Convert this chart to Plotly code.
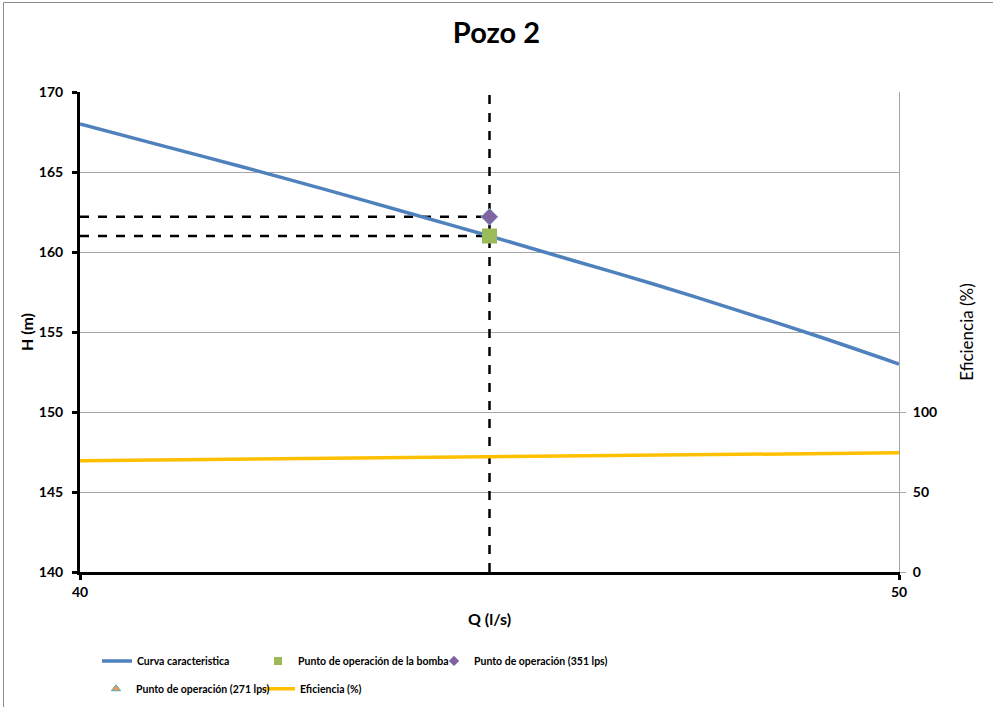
import plotly.graph_objects as go

# curva caracteristica de la bomba
q_curve = [40, 41, 42, 43, 44, 45, 46, 47, 48, 49, 50]
h_curve = [168.0, 166.65, 165.3, 163.9, 162.45, 161.0, 159.5, 158.0, 156.4, 154.75, 153.0]

# eficiencia (%)
q_eff = [40, 45, 50]
eff = [69.5, 72.0, 74.5]

# puntos de operacion
q_op = [45]
h_bomba = [161.0]
h_351 = [162.2]

h_range = [140, 170]
q_range = [40, 50]
eff_range = [0, 300]
eff_ticks = [0, 50, 100]

FONT = "Lato"
BLUE = "#4F81BD"
GREEN = "#9BBB59"
PURPLE = "#8064A2"
YELLOW = "#FFC000"

W, H = 993, 707
ML, MR, MT, MB = 80, 94, 92, 135
pw, ph = W - ML - MR, H - MT - MB

fig = go.Figure()

# guias punteadas
fig.add_trace(go.Scatter(x=[q_op[0], q_op[0]], y=h_range, mode="lines",
                         line=dict(color="black", width=2.5, dash="dash"),
                         showlegend=False, hoverinfo="skip"))
for h in (h_351[0], h_bomba[0]):
    fig.add_trace(go.Scatter(x=[q_range[0], q_op[0]], y=[h, h], mode="lines",
                             line=dict(color="black", width=2.5, dash="dash"),
                             showlegend=False, hoverinfo="skip"))

fig.add_trace(go.Scatter(x=q_curve, y=h_curve, mode="lines", name="Curva caracteristica",
                         line=dict(color=BLUE, width=3.5, shape="spline", smoothing=0.8),
                         legend="legend"))

fig.add_trace(go.Scatter(x=q_eff, y=eff, mode="lines", name="Eficiencia (%)", yaxis="y2",
                         line=dict(color=YELLOW, width=3.5), legend="legend5"))

# marcadores en la grafica
fig.add_trace(go.Scatter(x=q_op, y=h_bomba, mode="markers", showlegend=False,
                         marker=dict(symbol="square", size=15, color=GREEN)))
fig.add_trace(go.Scatter(x=q_op, y=h_351, mode="markers", showlegend=False,
                         marker=dict(symbol="diamond", size=13, color=PURPLE,
                                     line=dict(color="#9DB6D8", width=1))))

# entradas de leyenda (solo simbolo)
fig.add_trace(go.Scatter(x=[None], y=[None], mode="markers", name="Punto de operación de la bomba",
                         marker=dict(symbol="square", size=8, color=GREEN), legend="legend2"))
fig.add_trace(go.Scatter(x=[None], y=[None], mode="markers", name="Punto de operación (351 lps)",
                         marker=dict(symbol="diamond", size=8, color=PURPLE), legend="legend3"))
fig.add_trace(go.Scatter(x=[None], y=[None], mode="markers", name="Punto de operación (271 lps)",
                         marker=dict(symbol="triangle-up", size=8, color="#F79646",
                                     line=dict(color="#4BACC6", width=1)), legend="legend4"))

legend_font = dict(family=FONT, size=10.5, color="black", weight="bold")


def leg(px_left, row_y):
    return dict(orientation="h", x=(px_left - ML) / pw, xanchor="left", y=row_y, yanchor="top",
                font=legend_font, bgcolor="rgba(0,0,0,0)", itemwidth=30)


row1, row2 = -0.155, -0.213
tick_font = dict(family=FONT, size=14, weight="bold")
fig.update_layout(
    width=W, height=H,
    margin=dict(l=ML, r=MR, t=MT, b=MB, autoexpand=False),
    paper_bgcolor="white", plot_bgcolor="white",
    font=dict(family=FONT, size=13, color="black"),
    title=dict(text="Pozo 2", x=0.5, xanchor="center", y=1 - 33 / H, yanchor="middle",
               font=dict(family=FONT, size=29, color="black", weight="bold")),
    legend=leg(97, row1),
    legend2=leg(258, row1),
    legend3=leg(434, row1),
    legend4=leg(96, row2),
    legend5=leg(260, row2),
    xaxis=dict(range=q_range, tickvals=q_range, showgrid=False, zeroline=False,
               showline=True, linecolor="black", linewidth=3, automargin=False,
               ticks="outside", ticklen=5, tickwidth=3, tickcolor="black",
               tickfont=tick_font,
               title=dict(text="Q (l/s)", font=dict(family=FONT, size=16, weight="bold"), standoff=16)),
    yaxis=dict(range=h_range, dtick=5, showgrid=True, gridcolor="#A6A6A6", gridwidth=1,
               zeroline=False, showline=True, linecolor="black", linewidth=3, automargin=False,
               ticks="outside", ticklen=5, tickwidth=3, tickcolor="black",
               tickfont=tick_font, ticklabelstandoff=6,
               title=dict(text="H (m)", font=dict(family=FONT, size=16, weight="bold"), standoff=2)),
    yaxis2=dict(range=eff_range, tickvals=eff_ticks, overlaying="y", side="right",
                showgrid=False, zeroline=False, showline=True, linecolor="#A6A6A6", linewidth=1,
                automargin=False, ticks="outside", ticklen=6, tickcolor="#A6A6A6",
                tickfont=tick_font, ticklabelstandoff=4,
                title=dict(text="Eficiencia (%)", font=dict(family=FONT, size=17), standoff=24)),
)

# borde exterior del grafico (derecha y abajo quedan fuera)
fig.add_shape(type="rect", xref="paper", yref="paper",
              x0=(3.5 - ML) / pw, x1=(W + 20 - ML) / pw,
              y0=-(MB + 20) / ph, y1=1 + (MT - 2.5) / ph,
              line=dict(color="#8C8C8C", width=1), layer="above")

fig.write_html("out.html", config={"displayModeBar": False},
               post_script="document.body.style.margin='0px';")
